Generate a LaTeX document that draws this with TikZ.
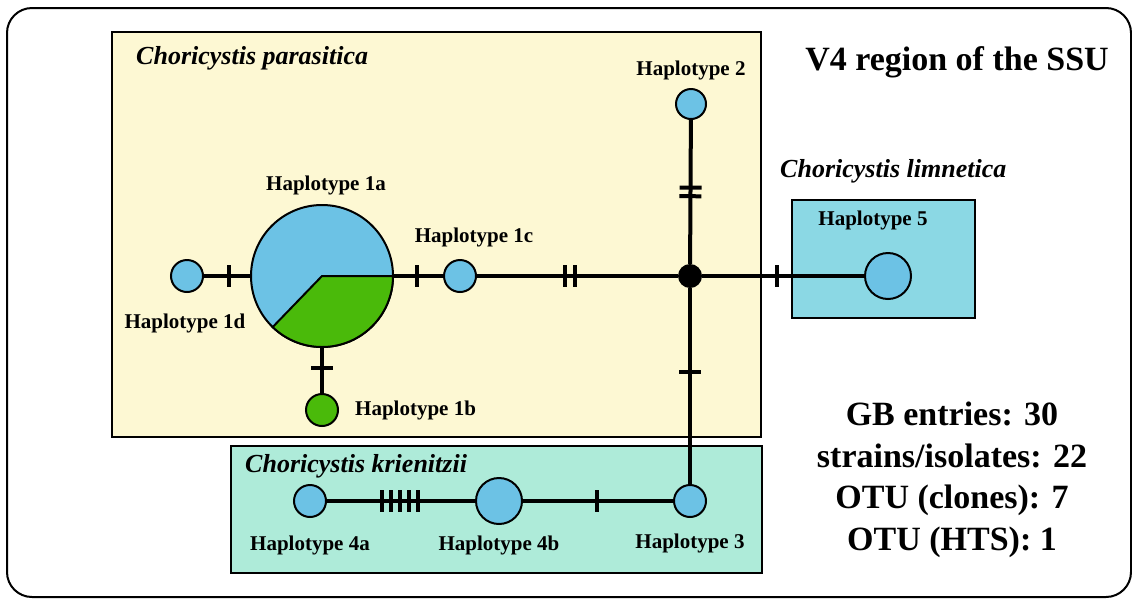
\documentclass[tikz,border=0pt]{standalone}
\usepackage{fontspec}
\setmainfont{Liberation Serif}
\usetikzlibrary{positioning}

\definecolor{hapblue}{RGB}{108,194,229}
\definecolor{hapgreen}{RGB}{74,186,10}
\definecolor{parabg}{RGB}{253,248,211}
\definecolor{limnbg}{RGB}{139,216,228}
\definecolor{krienbg}{RGB}{174,235,217}

\tikzset{
  hap/.style={circle, draw, line width=2pt, fill=hapblue, inner sep=0pt, minimum size=#1},
  hap/.default=32pt,
  hlab/.style={inner sep=0pt, font=\fontsize{21}{25}\selectfont\bfseries},
  species/.style={inner sep=0pt, anchor=west, font=\fontsize{26}{30}\selectfont\bfseries\itshape},
  bigtext/.style={inner sep=0pt, align=center, font=\fontsize{34}{41.5}\selectfont\bfseries},
  tick/.style={fill=black, inner sep=0pt, minimum width=4pt, minimum height=22pt, sloped},
  link/.style={line width=4pt},
  region/.style={draw, line width=1.5pt},
}

\begin{document}
\begin{tikzpicture}[x=1pt,y=-1pt]
  \useasboundingbox (0,0) rectangle (1132,598);
  \draw[line width=2pt, rounded corners=25pt] (7,8) rectangle (1131,597);

  % species regions
  \draw[region, fill=parabg] (112,32) rectangle (761,437);
  \draw[region, fill=limnbg] (792,200) rectangle (975,318);
  \draw[region, fill=krienbg] (231,446) rectangle (762,573);

  \node (sppara) [species] at (136,58) {Choricystis parasitica};
  \node (splimn) [species] at (780,171) {Choricystis limnetica};
  \node (spkrien) [species] at (245,466) {Choricystis krienitzii};

  \node (title) [bigtext] at (957,62) {V4 region of the SSU};
  \node (stats) [bigtext] at (952,480) {GB entries: 30\\strains/isolates: 22\\OTU (clones): 7\\OTU (HTS): 1};

  % haplotypes
  \node (h1a) [hap=142pt] at (322,276) {};
  \filldraw[fill=hapgreen, line width=2pt] (h1a.center) -- ++(71,0) arc[start angle=0, end angle=134, radius=71] -- cycle;
  \node (h1d) [hap] at (187,276) {};
  \node (h1c) [hap] at (460,276) {};
  \node (h1b) [hap, fill=hapgreen] at (322,410) {};
  \node (h2) [hap=30pt] at (691,104) {};
  \node (junc) [circle, fill=black, inner sep=0pt, minimum size=24pt] at (690,276) {};
  \node (h5) [hap=46pt] at (888,276) {};
  \node (h3) [hap] at (690,501) {};
  \node (h4a) [hap] at (310,501) {};
  \node (h4b) [hap=46pt] at (499,501) {};

  \node (l1a) [hlab, above=9pt of h1a, xshift=4pt] {Haplotype 1a};
  \node (l1b) [hlab, right=16pt of h1b] {Haplotype 1b};
  \node (l1c) [hlab, above=12pt of h1c, xshift=14pt] {Haplotype 1c};
  \node (l1d) [hlab, below=21pt of h1d, xshift=-2pt] {Haplotype 1d};
  \node (l2) [hlab, above=8pt of h2] {Haplotype 2};
  \node (l3) [hlab, below=16pt of h3] {Haplotype 3};
  \node (l4a) [hlab, below=18pt of h4a] {Haplotype 4a};
  \node (l4b) [hlab, below=11pt of h4b] {Haplotype 4b};
  \node (l5) [hlab, above=22pt of h5, xshift=-15pt] {Haplotype 5};

  \path[link]
    (h1d) edge node[tick, pos=.55] {} (h1a)
    (h1a) edge node[tick, pos=.46] {} (h1c)
    (h1a) edge node[tick, pos=.45] {} (h1b)
    (h1c) edge node[tick, pos=.44] {} node[tick, pos=.49] {} (junc)
    (h2) edge node[tick, pos=.47] {} node[tick, pos=.53] {} (junc)
    (junc) edge node[tick, pos=.46] {} (h5)
    (junc) edge node[tick, pos=.43] {} (h3)
    (h4a) edge node[tick, pos=.373] {} node[tick, pos=.433] {} node[tick, pos=.493] {}
               node[tick, pos=.553] {} node[tick, pos=.613] {} (h4b)
    (h4b) edge node[tick, pos=.49] {} (h3);

\end{tikzpicture}
\end{document}
